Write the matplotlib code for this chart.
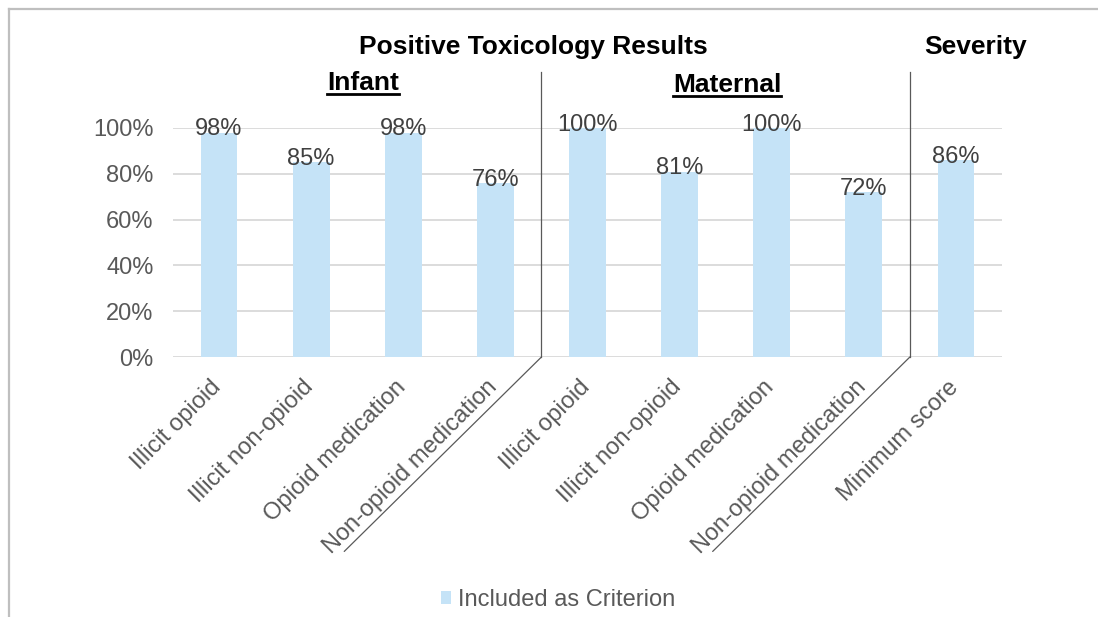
import matplotlib.pyplot as plt
from matplotlib.lines import Line2D
from matplotlib.transforms import ScaledTranslation

plt.rcParams["font.family"] = ["Liberation Sans", "DejaVu Sans"]

# Data
categories = [
    "Illicit opioid", "Illicit non-opioid", "Opioid medication", "Non-opioid medication",
    "Illicit opioid", "Illicit non-opioid", "Opioid medication", "Non-opioid medication",
    "Minimum score",
]
values = [0.98, 0.85, 0.98, 0.76, 1.00, 0.81, 1.00, 0.72, 0.86]
series_name = "Included as Criterion"
y_ticks = [0, 0.2, 0.4, 0.6, 0.8, 1.0]
group_titles = ["Positive Toxicology Results", "Severity"]
subgroups = ["Infant", "Maternal"]

# Palette
BAR = "#C5E3F7"
GRID = "#D9D9D9"
TICK = "#595959"
LABEL = "#404040"
DIVIDER = "#595959"
BORDER = "#BFBFBF"

W, H = 1098, 617


def main():
    fig = plt.figure(figsize=(W / 100, H / 100), dpi=100)
    ax = fig.add_axes([173 / W, 1 - 357 / H, (1002 - 173) / W, (357 - 128) / H])

    x = list(range(len(categories)))
    bars = ax.bar(x, values, width=0.4, color=BAR, zorder=2, label=series_name)
    ax.set_xlim(-0.5, len(categories) - 0.5)
    ax.set_ylim(0, 1)
    ax.set_yticks(y_ticks)
    ax.set_yticklabels([f"{round(t * 100)}%" for t in y_ticks])
    ax.yaxis.grid(True, color=GRID, lw=1.3, zorder=0)
    ax.set_axisbelow(True)
    for spine in ax.spines.values():
        spine.set_visible(False)
    ax.tick_params(length=0, labelsize=17, colors=TICK)
    ax.tick_params(axis="y", pad=14)
    ax.tick_params(axis="x", pad=8)
    ax.set_xticks(x)
    ax.set_xticklabels(categories, rotation=45, ha="right", rotation_mode="anchor")
    # nudge the rotated labels so the diagonal dividers run just under them
    shift = ScaledTranslation(-9 / 100, -8 / 100, fig.dpi_scale_trans)
    for lab in ax.get_xticklabels():
        lab.set_transform(lab.get_transform() + shift)

    # value labels
    for i, v in enumerate(values):
        ax.annotate(f"{v:.0%}", (i, v), xytext=(0, -2), textcoords="offset points",
                    ha="center", va="baseline", fontsize=17, color=LABEL, zorder=3)

    # group dividers (vertical + diagonal along the rotated labels)
    for xd in (3.5, 7.5):
        ax.plot([xd, xd], [0, 1.245], color=DIVIDER, lw=0.9, clip_on=False, zorder=3)
        ax.annotate("", xy=(xd, 0), xytext=(-142, -140), textcoords="offset points",
                    arrowprops=dict(arrowstyle="-", color=DIVIDER, lw=0.9,
                                    shrinkA=0, shrinkB=0),
                    annotation_clip=False)

    # headers
    fig.text(533 / W, 1 - 54 / H, group_titles[0], ha="center", va="baseline",
             fontsize=19, fontweight="bold")
    fig.text(976 / W, 1 - 54 / H, group_titles[1], ha="center", va="baseline",
             fontsize=19, fontweight="bold")
    sub_texts = []
    for name, cx, base in zip(subgroups, (363, 727), (90, 92)):
        t = fig.text(cx / W, 1 - base / H, name, ha="center", va="baseline",
                     fontsize=19, fontweight="bold")
        sub_texts.append((t, base))

    # underline the sub-group names
    fig.canvas.draw()
    for t, base in sub_texts:
        bb = t.get_window_extent()
        y = 1 - (base + 4) / H
        fig.add_artist(Line2D([bb.x0 / W, bb.x1 / W], [y, y], color="black", lw=2.0,
                              transform=fig.transFigure))

    # chart frame (left and top edges only visible)
    fig.add_artist(Line2D([9 / W, 9 / W], [0, 1 - 9 / H], color=BORDER, lw=1.6,
                          transform=fig.transFigure))
    fig.add_artist(Line2D([9 / W, 1], [1 - 9 / H, 1 - 9 / H], color=BORDER, lw=1.6,
                          transform=fig.transFigure))

    fig.legend([bars], [series_name], loc="center", bbox_to_anchor=(558 / W, 1 - 600 / H),
               frameon=False, fontsize=17, handlelength=0.45, handleheight=0.45,
               handletextpad=0.3, labelcolor=TICK)

    fig.savefig("out.png", dpi=100, facecolor="white")


if __name__ == "__main__":
    main()
